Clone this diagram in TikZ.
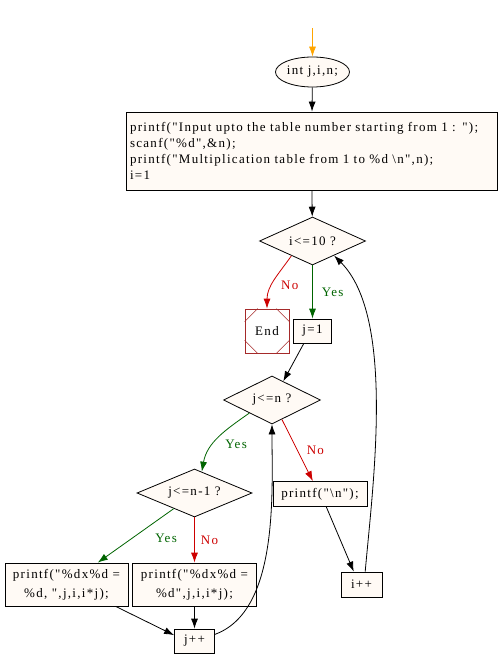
\documentclass[tikz,border=0pt]{standalone}
\usepackage{fontspec}
\setmainfont{Liberation Serif}[LetterSpace=10, Ligatures=TeXOff]
\usepackage{tikz}
\usetikzlibrary{shapes,arrows.meta,positioning}
\definecolor{boxfill}{RGB}{255,250,245}
\definecolor{yescol}{RGB}{0,100,0}
\definecolor{nocol}{RGB}{205,0,0}
\definecolor{endcol}{RGB}{165,42,42}
\definecolor{startcol}{RGB}{255,165,0}
\tikzstyle{line} = [draw, line width=0.8pt, -{Latex[length=10pt,width=7pt]}]
\tikzstyle{line_yes} = [line, draw=yescol]
\tikzstyle{line_no} = [line, draw=nocol]
\tikzstyle{box_stmt} = [rectangle, draw, line width=0.8pt, fill=boxfill, inner sep=4pt, minimum height=25pt, text centered, font=\fontsize{13}{16}\selectfont]
\tikzstyle{box_test} = [diamond, draw, line width=0.8pt, fill=boxfill, aspect=2.2, inner sep=0pt, minimum height=48pt, font=\fontsize{13}{16}\selectfont]
\tikzstyle{box_oval} = [ellipse, draw, line width=0.8pt, fill=boxfill, inner sep=0pt, minimum width=74pt, minimum height=30pt, font=\fontsize{13}{16}\selectfont]
\tikzstyle{box_end} = [rectangle, draw=endcol, line width=0.8pt, minimum width=44pt, minimum height=44pt, font=\fontsize{13}{16}\selectfont]
\tikzstyle{lbl_yes} = [text=yescol, inner sep=1pt, font=\fontsize{13}{16}\selectfont]
\tikzstyle{lbl_no} = [text=nocol, inner sep=1pt, font=\fontsize{13}{16}\selectfont]

\begin{document}
\begin{tikzpicture}[x=1pt, y=1pt]
	\useasboundingbox (0,0) rectangle (498,-668);
	\coordinate (start) at (312.5,-28);
	\node [box_oval] (decl) at (312.5,-72) {int j,i,n;};
	\path [line, draw=startcol] (start) to (decl.north);
	
	\node [box_stmt, below of=decl, node distance=79pt, xshift=-1pt, text width=363pt, minimum width=371pt, minimum height=78pt, align=left] (init) {printf("Input upto the table number starting from 1 : ");\\scanf("\%d",\&n);\\printf("Multiplication table from 1 to \%d \textbackslash n",n);\\i=1};
	\path [line] (decl) to (init);
	
	\node [box_test, below of=init, node distance=90pt, xshift=1pt, minimum width=106pt] (cond1) {i<=10 ?};
	\path [line] (init) to (cond1);
	
	\node [box_stmt, below of=cond1, node distance=90pt, minimum width=38pt, minimum height=24pt] (j1) {j=1};
	\path [line_yes] (cond1) to node [lbl_yes, right=8pt] {Yes} (j1);
	
	\node [box_end, left of=j1, node distance=45.5pt] (endn) {End};
	\draw [endcol, line width=0.5pt] ([xshift=13pt]endn.north west) -- ([yshift=-13pt]endn.north west);
	\draw [endcol, line width=0.5pt] ([xshift=-13pt]endn.north east) -- ([yshift=-13pt]endn.north east);
	\draw [endcol, line width=0.5pt] ([xshift=13pt]endn.south west) -- ([yshift=13pt]endn.south west);
	\draw [endcol, line width=0.5pt] ([xshift=-13pt]endn.south east) -- ([yshift=13pt]endn.south east);
	\path [line_no] (cond1.215) to [out=235, in=90] node [lbl_no, pos=0.6, right=8pt] {No} (endn.north);
	
	\node [box_test, below of=j1, node distance=69pt, xshift=-40.5pt, minimum width=97pt] (cond2) {j<=n ?};
	\path [line] (j1.235) to (cond2.59);
	
	\node [box_stmt, below of=cond2, node distance=94pt, xshift=48pt, minimum width=94pt] (pn) {printf("\textbackslash n");};
	\path [line_no] (cond2.-63) to node [lbl_no, right=8pt] {No} (pn.119);
	
	\node [box_test, below of=cond2, node distance=93pt, xshift=-77.5pt, minimum width=115pt] (cond3) {j<=n-1 ?};
	\path [line_yes] (cond2.210) to [out=215, in=80] node [lbl_yes, pos=0.62, right=11pt] {Yes} (cond3.71);
	
	\node [box_stmt, below of=cond3, node distance=91.5pt, minimum width=124pt, minimum height=43pt, align=center] (pright) {printf("\%dx\%d =\\[3pt]\%d",j,i,i*j);};
	\path [line_no] (cond3) to node [lbl_no, right=5pt] {No} (pright);
	
	\node [box_stmt, left of=pright, node distance=128pt, minimum width=123pt, minimum height=43pt, align=center] (pleft) {printf("\%dx\%d =\\[3pt]\%d, ",j,i,i*j);};
	\path [line_yes] (cond3.217) to node [lbl_yes, pos=0.55, right=22pt] {Yes} (pleft.35);
	
	\node [box_stmt, below of=pright, node distance=56.5pt, minimum width=40pt, minimum height=24pt] (jpp) {j++};
	\path [line] (pright) to (jpp);
	\path [line] (pleft.-24) to (jpp.164);
	\path [line] (jpp.18) to [out=20, in=-90, looseness=0.8] (cond2.south);
	
	\node [box_stmt, below of=pn, node distance=90.5pt, xshift=41.5pt, minimum width=41pt] (ipp) {i++};
	\path [line] (pn.-64) to (ipp.121);
	\path [line] (ipp.74) to [out=85, in=-45, looseness=0.7] (cond1.-34);
\end{tikzpicture}
\end{document}
